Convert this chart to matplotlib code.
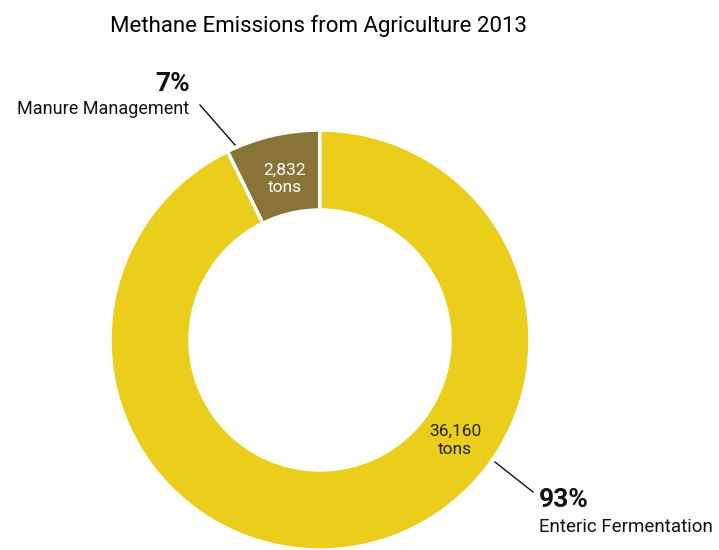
import numpy as np
import matplotlib.pyplot as plt

plt.rcParams['font.family'] = ['Roboto', 'DejaVu Sans']

# emissions by source, tons
sources = ['Manure Management', 'Enteric Fermentation']
tons = [2832, 36160]
colores = ['#877436', '#EBCD1C']

total = sum(tons)
pct = [100.0 * t / total for t in tons]

fig = plt.figure(figsize=(7.19, 5.5), dpi=100)
ax = fig.add_axes([0, 0, 1, 1])

# coordenadas en pixeles, y hacia arriba
cx, cy, r = 320, 210, 210
wedges, _ = ax.pie(tons, colors=colores, startangle=90, counterclock=True,
                   center=(cx, cy), radius=r,
                   wedgeprops=dict(width=80, edgecolor='white', linewidth=2.5))
ax.set_xlim(0, 719)
ax.set_ylim(0, 550)
ax.set_aspect('equal')
ax.axis('off')

fig.text(318 / 719, 1 - 26 / 550, 'Methane Emissions from Agriculture 2013',
         ha='center', va='center', fontsize=16)

# valores dentro del anillo
ax.text(285, 550 - 179, '{:,}\ntons'.format(tons[0]), color='white',
        ha='center', va='center', fontsize=12.5, linespacing=1.25)
ax.text(455, 550 - 440, '{:,}\ntons'.format(tons[1]), color='#222222',
        ha='center', va='center', fontsize=12.5, linespacing=1.25)

# etiquetas de porcentaje con linea guia
ax.text(190, 550 - 84, '{:.0f}%'.format(pct[0]), ha='right', va='center',
        fontsize=19, fontweight='bold', color='#111111')
ax.text(189, 550 - 109, sources[0], ha='right', va='center', fontsize=13,
        color='#111111')
ax.plot([200, 235], [550 - 105, 550 - 145], color='#111111', lw=1)

ax.text(539, 550 - 500, '{:.0f}%'.format(pct[1]), ha='left', va='center',
        fontsize=19, fontweight='bold', color='#111111')
ax.text(539, 550 - 527, sources[1], ha='left', va='center', fontsize=13.5,
        color='#111111')
ax.plot([495, 533], [550 - 462, 550 - 492], color='#111111', lw=1)

fig.savefig('out.png', dpi=100)
